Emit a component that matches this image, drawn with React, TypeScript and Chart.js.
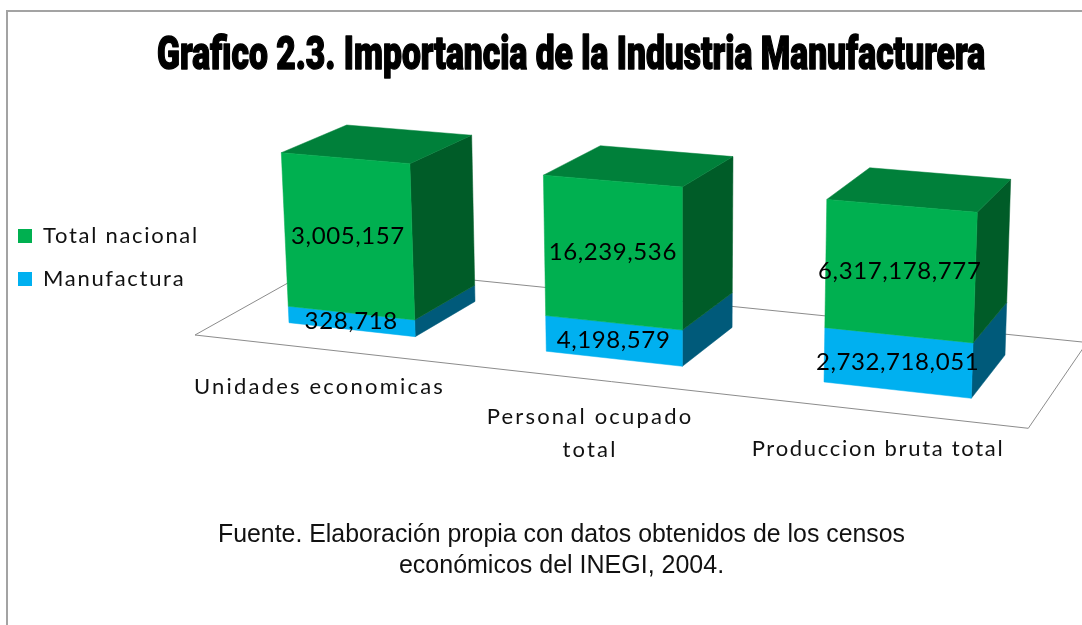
import React, { useEffect, useRef } from "react";
import { Chart, registerables } from "chart.js";

Chart.register(...registerables);

const categories: (string | string[])[] = ["Unidades economicas", ["Personal ocupado", "total"], "Produccion bruta total"];
const totalNacional = [3005157, 16239536, 6317178777];
const manufactura = [328718, 4198579, 2732718051];
const titleText = "Grafico 2.3. Importancia de la Industria Manufacturera";
const sourceLines = ["Fuente. Elaboración propia con datos obtenidos de los censos", "económicos del INEGI, 2004."];

const share = (a: number, b: number) => (a / (a + b)) * 100;
const manufacturaShare = manufactura.map((m, i) => share(m, totalNacional[i]));
const totalShare = totalNacional.map((t, i) => share(t, manufactura[i]));

type P = [number, number];

// projective map of the unit square onto a quadrilateral
function quadMap(p00: P, p10: P, p11: P, p01: P) {
  const [x0, y0] = p00, [x1, y1] = p10, [x2, y2] = p11, [x3, y3] = p01;
  const dx1 = x1 - x2, dx2 = x3 - x2, sx = x0 - x1 + x2 - x3;
  const dy1 = y1 - y2, dy2 = y3 - y2, sy = y0 - y1 + y2 - y3;
  const den = dx1 * dy2 - dx2 * dy1;
  const g = (sx * dy2 - dx2 * sy) / den;
  const h = (dx1 * sy - sx * dy1) / den;
  const a = x1 - x0 + g * x1, b = x3 - x0 + h * x3, c = x0;
  const d = y1 - y0 + g * y1, e = y3 - y0 + h * y3, f = y0;
  return (u: number, v: number): P => {
    const w = g * u + h * v + 1;
    return [(a * u + b * v + c) / w, (d * u + e * v + f) / w];
  };
}

// view calibration of the 3D box: front and back planes
const frontPlane = quadMap([289, 322.7], [971.3, 398.3], [977.3, 212.3], [281.3, 152.7]);
const backPlane = quadMap([352, 289], [1005, 355], [1010.7, 179.3], [346.7, 125]);
const U0 = 1 / 12, U1 = 11 / 12;
const norm = (u: number) => (u - U0) / (U1 - U0);
const front = (u: number, v: number) => frontPlane(norm(u), v);
const back = (u: number, v: number) => backPlane(norm(u), v);

const floorCorners: P[] = [[195, 335], [1028.3, 428.3], [1087, 342.5], [320.7, 264.6]];
const labelAnchors: P[] = [[319.5, 387], [590, 417], [878, 449]];
const labelSpacing = [2.2, 2.2, 1.7];

const LABEL_FONT = "Lato, 'Open Sans', sans-serif";
const GREEN = "#00B050", BLUE = "#00B0F0";
const sideColors = ["#005A7A", "#005C28"];
const TOP_COLOR = "#00803A";

function poly(ctx: CanvasRenderingContext2D, pts: P[], fill: string) {
  ctx.beginPath();
  pts.forEach((p, i) => (i ? ctx.lineTo(p[0], p[1]) : ctx.moveTo(p[0], p[1])));
  ctx.closePath();
  ctx.fillStyle = fill;
  ctx.fill();
  ctx.strokeStyle = fill;
  ctx.lineWidth = 0.5;
  ctx.stroke();
}

const box3d = {
  id: "box3d",
  afterLayout(chart: any) {
    const t = chart.titleBlock;
    if (t) {
      t.left = 157; t.right = 985; t.top = 29.4; t.bottom = 90;
    }
    const s = chart.boxes.find((b: any) => b !== t && b.options && Array.isArray(b.options.text));
    if (s) {
      s.left = 218; s.right = 905; s.top = 520; s.bottom = 587;
    }
    const l = chart.legend;
    if (l) {
      l.left = -3; l.top = 204;
      if (!l.__wrapped) {
        const orig = l.draw;
        l.draw = function () {
          const c = chart.ctx;
          c.save();
          c.letterSpacing = "1.7px";
          orig.call(l);
          c.restore();
        };
        l.__wrapped = true;
      }
    }
  },
  beforeDraw(chart: any) {
    const c = chart.ctx;
    c.save();
    c.fillStyle = "#fff";
    c.fillRect(0, 0, chart.width, chart.height);
    c.strokeStyle = "#a3a3a3";
    c.lineWidth = 2;
    c.strokeRect(7, 11, chart.width + 20, chart.height + 20);
    c.restore();
  },
  beforeDatasetsDraw(chart: any) {
    const c: CanvasRenderingContext2D = chart.ctx;
    const area = chart.chartArea;
    const yScale = chart.scales.y;
    c.save();
    // floor
    c.beginPath();
    floorCorners.forEach((p, i) => (i ? c.lineTo(p[0], p[1]) : c.moveTo(p[0], p[1])));
    c.closePath();
    c.strokeStyle = "#8c8c8c";
    c.lineWidth = 1;
    c.stroke();

    const metas = [chart.getDatasetMeta(0), chart.getDatasetMeta(1)];
    const raw = [manufactura, totalNacional];
    categories.forEach((_, i) => {
      metas.forEach((meta: any, dsIndex: number) => {
        const bar = meta.data[i];
        const uL = (bar.x - bar.width / 2 - area.left) / area.width;
        const uR = (bar.x + bar.width / 2 - area.left) / area.width;
        const vB = (yScale.bottom - bar.base) / (yScale.bottom - yScale.top);
        const vT = (yScale.bottom - bar.y) / (yScale.bottom - yScale.top);
        poly(c, [front(uR, vB), back(uR, vB), back(uR, vT), front(uR, vT)], sideColors[dsIndex]);
        if (dsIndex === 1) poly(c, [front(uL, vT), front(uR, vT), back(uR, vT), back(uL, vT)], TOP_COLOR);
        poly(c, [front(uL, vB), front(uR, vB), front(uR, vT), front(uL, vT)], dsIndex ? GREEN : BLUE);
      });
      metas.forEach((meta: any, dsIndex: number) => {
        const bar = meta.data[i];
        const uM = (bar.x - area.left) / area.width;
        const vM = (yScale.bottom - (bar.base + bar.y) / 2) / (yScale.bottom - yScale.top);
        const [x, y] = front(uM, vM);
        c.font = `24px ${LABEL_FONT}`;
        (c as any).letterSpacing = "0.6px";
        c.fillStyle = "#000";
        c.textAlign = "center";
        c.textBaseline = "middle";
        c.fillText(raw[dsIndex][i].toLocaleString("en-US"), x, y);
      });
    });

    // category labels
    c.font = `22px ${LABEL_FONT}`;
    c.fillStyle = "#111";
    c.textAlign = "center";
    c.textBaseline = "middle";
    categories.forEach((label, i) => {
      (c as any).letterSpacing = `${labelSpacing[i]}px`;
      const lines = Array.isArray(label) ? label : [label];
      lines.forEach((ln, k) => c.fillText(ln, labelAnchors[i][0], labelAnchors[i][1] + k * 33));
    });
    c.restore();
    return false;
  },
  afterDraw(chart: any) {
    const t = chart.titleBlock;
    const c = chart.ctx;
    c.save();
    c.font = "900 46px Roboto, 'Liberation Sans', sans-serif";
    c.textAlign = "center";
    c.textBaseline = "middle";
    c.strokeStyle = "#000";
    c.lineWidth = 1.5;
    c.lineJoin = "round";
    const lh = t.options.font.lineHeight ?? 1.2;
    c.strokeText(titleText, (t.left + t.right) / 2, t.top + (46 * lh) / 2, t.right - t.left);
    c.restore();
  },
};

export default function App() {
  const ref = useRef<HTMLCanvasElement | null>(null);
  useEffect(() => {
    const chart = new Chart(ref.current as HTMLCanvasElement, {
      type: "bar",
      data: {
        labels: categories as any,
        datasets: [
          { label: "Manufactura", data: manufacturaShare, backgroundColor: BLUE, barPercentage: 0.5, categoryPercentage: 1 },
          { label: "Total nacional", data: totalShare, backgroundColor: GREEN, barPercentage: 0.5, categoryPercentage: 1 },
        ],
      },
      options: {
        responsive: false,
        animation: false,
        events: [],
        layout: { padding: { left: 190, right: 0, top: 0, bottom: 0 } },
        scales: {
          x: { stacked: true, display: false },
          y: { stacked: true, display: false, min: 0, max: 100 },
        },
        plugins: {
          tooltip: { enabled: false },
          title: {
            display: true,
            text: titleText,
            color: "#000",
            padding: 0,
            font: { family: "Roboto, 'Liberation Sans', sans-serif", size: 46, weight: "900" as any, lineHeight: 1.2 },
          },
          subtitle: {
            display: true,
            position: "bottom",
            text: sourceLines,
            color: "#111",
            padding: 0,
            font: { family: "'Liberation Sans', Arial, sans-serif", size: 25, weight: "normal" as any, lineHeight: 31 / 25 },
          },
          legend: {
            display: true,
            position: "left",
            align: "start",
            reverse: true,
            labels: {
              boxWidth: 14,
              boxHeight: 14,
              padding: 21,
              color: "#111",
              font: { family: LABEL_FONT, size: 22 },
            },
          },
        },
      },
      plugins: [box3d],
    } as any);
    return () => chart.destroy();
  }, []);
  return (
    <div style={{ position: "absolute", left: 0, top: 0, width: 1082, height: 625 }}>
      <canvas ref={ref} width={1082} height={625} style={{ display: "block" }} />
    </div>
  );
}
